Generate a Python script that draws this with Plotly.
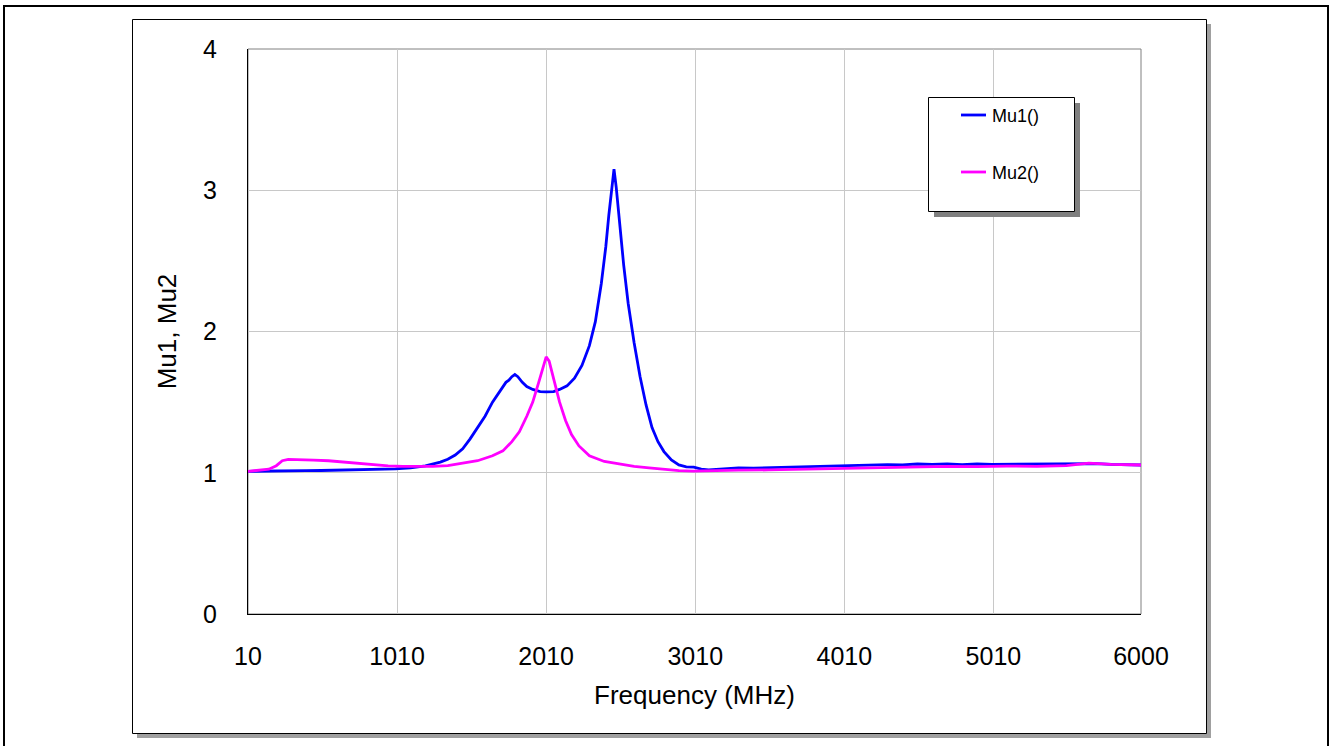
import plotly.graph_objects as go

# Frequency sweep (MHz) and stability factors
freq_mu1 = [10, 100, 200, 300, 400, 500, 600, 700, 800, 900, 1000, 1100, 1200, 1300,
            1350, 1400, 1450, 1500, 1550, 1600, 1650, 1700, 1740, 1760, 1780, 1800,
            1820, 1850, 1880, 1920, 1970, 2010, 2060, 2100, 2150, 2200, 2250, 2300,
            2340, 2380, 2410, 2430, 2450, 2465, 2480, 2500, 2530, 2560, 2600, 2640,
            2680, 2720, 2760, 2800, 2850, 2900, 2950, 3000, 3050, 3100, 3200, 3300,
            3400, 3500, 3600, 3700, 3800, 3900, 4000, 4100, 4200, 4300, 4400, 4500,
            4600, 4700, 4800, 4900, 5000, 5100, 5200, 5300, 5400, 5500, 5600, 5700,
            5800, 5900, 6000]
mu1 = [1.010, 1.012, 1.015, 1.015, 1.015, 1.016, 1.018, 1.020, 1.022, 1.025, 1.028,
       1.035, 1.048, 1.075, 1.095, 1.125, 1.170, 1.240, 1.320, 1.400, 1.500, 1.580,
       1.640, 1.655, 1.680, 1.695, 1.680, 1.640, 1.610, 1.590, 1.575, 1.572, 1.575,
       1.590, 1.615, 1.670, 1.760, 1.900, 2.070, 2.340, 2.600, 2.820, 3.020, 3.150,
       3.020, 2.800, 2.470, 2.200, 1.920, 1.680, 1.480, 1.320, 1.220, 1.150, 1.090,
       1.055, 1.042, 1.040, 1.025, 1.020, 1.030, 1.035, 1.033, 1.036, 1.040, 1.038,
       1.042, 1.045, 1.052, 1.050, 1.055, 1.058, 1.056, 1.062, 1.060, 1.063, 1.058,
       1.062, 1.060, 1.061, 1.058, 1.058, 1.060, 1.060, 1.062, 1.065, 1.060, 1.058,
       1.055]

freq_mu2 = [10, 80, 150, 200, 240, 280, 350, 450, 550, 650, 750, 850, 950, 1050,
            1150, 1250, 1350, 1450, 1550, 1650, 1720, 1780, 1830, 1880, 1920, 1960,
            1990, 2010, 2030, 2060, 2100, 2140, 2180, 2230, 2300, 2400, 2500, 2600,
            2700, 2800, 2900, 3000, 3100, 3300, 3500, 3700, 3900, 4100, 4300, 4500,
            4700, 4900, 5100, 5300, 5500, 5650, 5800, 6000]
mu2 = [1.010, 1.015, 1.025, 1.050, 1.085, 1.095, 1.095, 1.090, 1.085, 1.075, 1.065,
       1.055, 1.048, 1.045, 1.043, 1.045, 1.050, 1.065, 1.085, 1.120, 1.155, 1.220,
       1.290, 1.400, 1.500, 1.640, 1.760, 1.820, 1.790, 1.670, 1.500, 1.370, 1.270,
       1.190, 1.120, 1.080, 1.060, 1.045, 1.035, 1.025, 1.015, 1.012, 1.015, 1.018,
       1.020, 1.025, 1.028, 1.035, 1.038, 1.040, 1.045, 1.043, 1.047, 1.045, 1.050,
       1.068, 1.060, 1.055]

x_ticks = [10, 1010, 2010, 3010, 4010, 5010, 6000]
y_ticks = [0, 1, 2, 3, 4]

FONT = "Liberation Sans, Arial, sans-serif"

# plot area geometry in pixels
W, H = 1331, 746
L, R, T, B = 248, 1141, 49, 614


def px(x):
    return (x - L) / (R - L)


def py(y):
    return (B - y) / (B - T)


fig = go.Figure()
fig.add_trace(go.Scatter(x=freq_mu1, y=mu1, mode="lines", name="Mu1()",
                         line=dict(color="#0000ff", width=2.8)))
fig.add_trace(go.Scatter(x=freq_mu2, y=mu2, mode="lines", name="Mu2()",
                         line=dict(color="#ff00ff", width=2.8)))

shapes = [
    # outer frame
    dict(type="rect", xref="paper", yref="paper", x0=px(4), x1=px(1328),
         y0=py(6), y1=py(752), line=dict(color="black", width=2), layer="below"),
    # chart box shadow
    dict(type="rect", xref="paper", yref="paper", x0=px(137), x1=px(1211),
         y0=py(24), y1=py(738), line=dict(width=0), fillcolor="#a0a0a0",
         layer="below"),
    # chart box
    dict(type="rect", xref="paper", yref="paper", x0=px(132.5), x1=px(1206.5),
         y0=py(19.5), y1=py(733.5), line=dict(color="black", width=1),
         fillcolor="white", layer="below"),
    # plot area border
    dict(type="rect", xref="paper", yref="paper", x0=0, x1=1, y0=0, y1=1,
         line=dict(color="#808080", width=1), layer="between"),
    # legend shadow
    dict(type="rect", xref="paper", yref="paper", x0=px(934), x1=px(1080),
         y0=py(103), y1=py(217), line=dict(width=0), fillcolor="#808080",
         layer="above"),
    # legend box
    dict(type="rect", xref="paper", yref="paper", x0=px(928.5), x1=px(1074.5),
         y0=py(97.5), y1=py(211.5), line=dict(color="black", width=1),
         fillcolor="white", layer="above"),
]

legend_items = [("Mu1()", "#0000ff", 115), ("Mu2()", "#ff00ff", 172)]
annotations = []
for name, color, ypix in legend_items:
    shapes.append(dict(type="line", xref="paper", yref="paper", x0=px(961),
                       x1=px(986), y0=py(ypix), y1=py(ypix),
                       line=dict(color=color, width=2.8), layer="above"))
    annotations.append(dict(text=name, xref="paper", yref="paper", x=px(990),
                            y=py(ypix + 1), xanchor="left", yanchor="middle",
                            showarrow=False,
                            font=dict(family=FONT, size=18, color="black")))

fig.update_layout(
    width=W, height=H, autosize=False,
    margin=dict(l=L, r=W - R, t=T, b=H - B, pad=0),
    paper_bgcolor="white", plot_bgcolor="rgba(0,0,0,0)",
    showlegend=False,
    font=dict(family=FONT, size=25, color="black"),
    shapes=shapes, annotations=annotations,
    xaxis=dict(range=[10, 6000], tickmode="array", tickvals=x_ticks,
               ticktext=[str(v) for v in x_ticks], showgrid=True,
               gridcolor="#c8c8c8", gridwidth=1, zeroline=False,
               showline=True, linecolor="black", linewidth=1, ticks="",
               ticklabelstandoff=20,
               title=dict(text="Frequency (MHz)", standoff=16,
                          font=dict(family=FONT, size=26))),
    yaxis=dict(range=[0, 4], tickmode="array", tickvals=y_ticks,
               ticktext=[str(v) for v in y_ticks], showgrid=True,
               gridcolor="#c8c8c8", gridwidth=1, zeroline=False,
               showline=True, linecolor="black", linewidth=1, ticks="",
               ticklabelstandoff=25,
               title=dict(text="Mu1, Mu2", standoff=18,
                          font=dict(family=FONT, size=26))),
)

fig.write_html("out.html")
